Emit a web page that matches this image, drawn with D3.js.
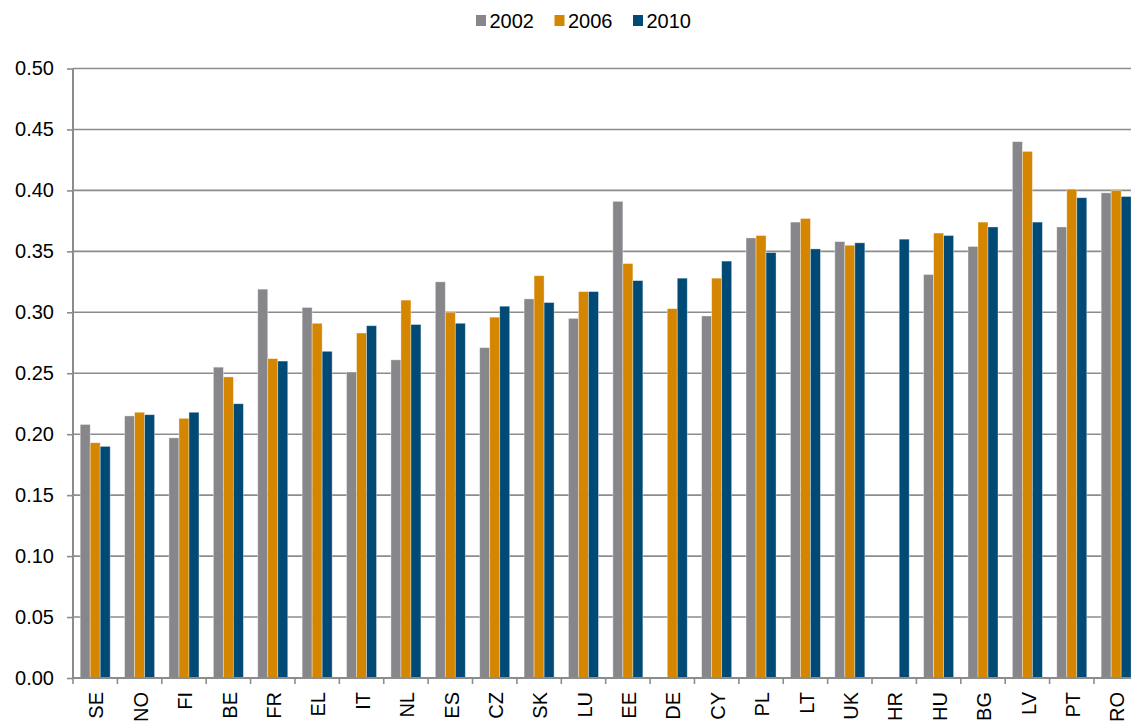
<!DOCTYPE html>
<html>
<head>
<meta charset="utf-8">
<script src="https://cdn.jsdelivr.net/npm/d3@7"></script>
<style>
  body { margin: 0; background: #fff; }
  text { font-family: "Liberation Sans", Arial, sans-serif; fill: #000; }
</style>
</head>
<body>
<svg id="chart" width="1131" height="722"></svg>
<script>
const categories = ["SE","NO","FI","BE","FR","EL","IT","NL","ES","CZ","SK","LU","EE","DE","CY","PL","LT","UK","HR","HU","BG","LV","PT","RO"];
const seriesNames = ["2002","2006","2010"];
const v2002 = [0.208,0.215,0.197,0.255,0.319,0.304,0.251,0.261,0.325,0.271,0.311,0.295,0.391,null,0.297,0.361,0.374,0.358,null,0.331,0.354,0.440,0.370,0.398];
const v2006 = [0.193,0.218,0.213,0.247,0.262,0.291,0.283,0.310,0.300,0.296,0.330,0.317,0.340,0.303,0.328,0.363,0.377,0.355,null,0.365,0.374,0.432,0.401,0.400];
const v2010 = [0.190,0.216,0.218,0.225,0.260,0.268,0.289,0.290,0.291,0.305,0.308,0.317,0.326,0.328,0.342,0.349,0.352,0.357,0.360,0.363,0.370,0.374,0.394,0.395];
const yTicks = [0,0.05,0.10,0.15,0.20,0.25,0.30,0.35,0.40,0.45,0.50];
const colors = ["#87868b","#d48600","#004a75"];

const series = [v2002, v2006, v2010];
const svg = d3.select("#chart");

const left = 73, step = 44.39;
const x = d3.scaleBand().domain(categories).range([left, left + step * categories.length]).paddingInner(0).paddingOuter(0);
const xInner = d3.scaleBand().domain(seriesNames).range([0, x.bandwidth()]).paddingOuter(0.72).paddingInner(0);
const y = d3.scaleLinear().domain([0, 0.5]).range([678, 68.5]);

// gridlines
svg.append("g").selectAll("line").data(yTicks.filter(d => d > 0)).join("line")
  .attr("x1", left).attr("x2", 1131)
  .attr("y1", d => y(d)).attr("y2", d => y(d))
  .attr("stroke", "#8c8c8c").attr("stroke-width", 1.6);

// bars
const groups = svg.append("g").selectAll("g").data(seriesNames).join("g")
  .attr("fill", (d, i) => colors[i]);
groups.each(function(name, si) {
  d3.select(this).selectAll("rect")
    .data(categories.map((c, ci) => ({c, v: series[si][ci]})).filter(d => d.v !== null))
    .join("rect")
    .attr("x", d => x(d.c) + xInner(name))
    .attr("width", xInner.bandwidth())
    .attr("y", d => y(d.v))
    .attr("height", d => y(0) - y(d.v))
    .attr("stroke", "#ffffff").attr("stroke-opacity", 0.45).attr("stroke-width", 0.8);
});

// y axis
const yAxis = d3.axisLeft(y).tickValues(yTicks).tickFormat(d3.format(".2f")).tickSize(6).tickPadding(13);
const yg = svg.append("g").attr("transform", `translate(${left},0)`).call(yAxis);
yg.select(".domain").attr("stroke", "#8c8c8c").attr("stroke-width", 2).attr("d", `M0,${y(0.5)}V${y(0)}`);
yg.selectAll(".tick line").attr("stroke", "#8c8c8c").attr("stroke-width", 1.6);
yg.selectAll(".tick text").attr("font-size", 20).attr("font-family", "Liberation Sans, Arial, sans-serif").attr("fill", "#000");

// x axis
const xAxis = d3.axisBottom(x).tickSize(0).tickFormat("");
const xg = svg.append("g").attr("transform", `translate(0,${y(0)})`).call(xAxis);
xg.select(".domain").attr("stroke", "#8c8c8c").attr("stroke-width", 2).attr("d", `M${left},0H1131`);
// tick marks at category boundaries
xg.append("g").selectAll("line").data(categories).join("line")
  .attr("x1", d => x(d)).attr("x2", d => x(d))
  .attr("y1", 0).attr("y2", 6)
  .attr("stroke", "#8c8c8c").attr("stroke-width", 1.6);
svg.append("g").selectAll("text").data(categories).join("text")
  .attr("transform", d => `translate(${x(d) + x.bandwidth() / 2 + 1},692) rotate(-90)`)
  .attr("text-anchor", "end")
  .attr("dy", "0.36em")
  .attr("font-size", 20)
  .text(d => d);

// legend
const legendX = [476, 554.5, 633];
const lg = svg.append("g").selectAll("g").data(seriesNames).join("g")
  .attr("transform", (d, i) => `translate(${legendX[i]},0)`);
lg.append("rect").attr("x", 0).attr("y", 15).attr("width", 10).attr("height", 11)
  .attr("fill", (d, i) => colors[i]);
lg.append("text").attr("x", 13.5).attr("y", 27.5).attr("font-size", 20).text(d => d);
</script>
</body>
</html>
